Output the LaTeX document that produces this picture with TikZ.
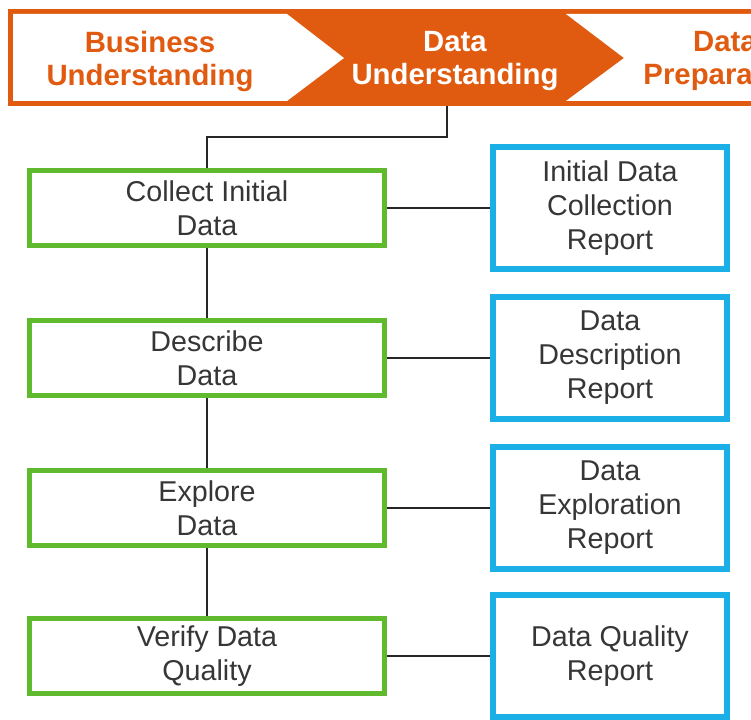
\documentclass[tikz,border=0pt]{standalone}
\usepackage{fontspec}
\setmainfont{Liberation Sans}
\usetikzlibrary{calc, backgrounds}
\definecolor{crorange}{HTML}{E05A10}
\definecolor{crgreen}{HTML}{5FBA2E}
\definecolor{crblue}{HTML}{1AAFE6}
\definecolor{crtext}{HTML}{363636}
\tikzset{
  every picture/.style={line join=miter},
  taskbox/.style={draw=crgreen, line width=4.2pt, fill=white, minimum width=266pt, minimum height=56pt,
    align=center, text=crtext, font=\fontsize{21.5}{25.5}\selectfont},
  reportbox/.style={draw=crblue, line width=4.5pt, fill=white, minimum width=175pt, minimum height=91.5pt,
    align=center, text=crtext, font=\fontsize{21.5}{25.5}\selectfont},
  phase/.style={align=center, font=\bfseries\fontsize{22}{24.75}\selectfont},
  link/.style={line width=1.5pt, black!85},
}

\begin{document}
\begin{tikzpicture}[x=0.75pt, y=-0.75pt]
  \useasboundingbox (0,0) rectangle (751,720);
  \clip (0,0) rectangle (751,720);
  % phase banner (px coordinates, y down)
  \fill[crorange] (8,9) rectangle (770,106);
  \fill[white] (13,14) -- (287,14) -- (344,58) -- (287,101) -- (13,101) -- cycle;
  \fill[white] (566,14) -- (770,14) -- (770,101) -- (566,101) -- (624,58) -- cycle;
  \node[phase, text=crorange] (business) at (150,61) {Business\\Understanding};
  \node[phase, text=white] (understanding) at (455,61) {Data\\Understanding};
  \node[phase, text=crorange] (preparation) at (725,61) {Data\\Preparation};
  \coordinate (ubot) at (447,106);
  % tasks and their outputs
  \foreach \n/\y/\t/\r in {collect/208/{Collect Initial\\Data}/{Initial Data\\Collection\\Report},
                           describe/358/{Describe\\Data}/{Data\\Description\\Report},
                           explore/508/{Explore\\Data}/{Data\\Exploration\\Report},
                           verify/656/{Verify Data\\Quality}/{Data Quality\\Report}} {
    \node[taskbox] (\n) at (207,\y) {\t};
    \node[reportbox] (\n-rep) at (610,\y) {\r};
  }
  \begin{pgfonlayer}{background}
    \draw[link] (ubot) -- ++(0,31) -| (collect.north);
    \foreach \a/\b in {collect/describe, describe/explore, explore/verify}
      \draw[link] (\a) -- (\b);
    \foreach \n in {collect, describe, explore, verify}
      \draw[link] (\n) -- (\n-rep);
  \end{pgfonlayer}
\end{tikzpicture}
\end{document}
